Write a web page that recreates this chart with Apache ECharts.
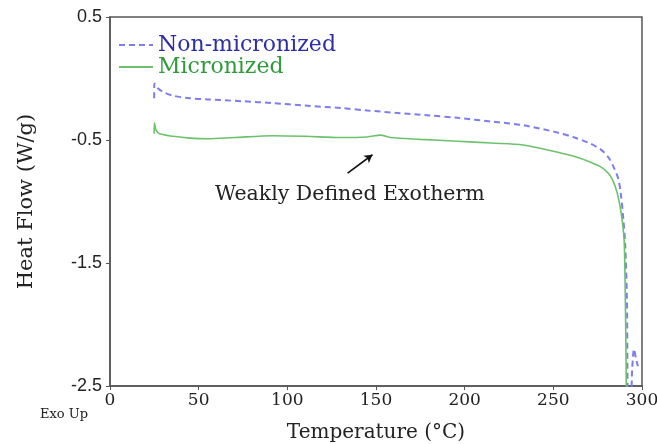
<!DOCTYPE html>
<html><head><meta charset="utf-8">
<script src="https://cdn.jsdelivr.net/npm/echarts@6/dist/echarts.min.js"></script>
<style>html,body{margin:0;padding:0;background:#fff}#c{width:657px;height:444px}</style>
</head><body><div id="c"></div>
<script>
// Temperature (°C) and Heat Flow (W/g)
const nonMicronized = [
  [24.9, -0.16], [25.0, -0.04], [27, -0.08], [30, -0.11], [35.6, -0.14], [45, -0.16], [55, -0.17],
  [75, -0.185], [92, -0.20], [110, -0.22], [130, -0.24], [145, -0.26], [162, -0.28], [180, -0.30],
  [196, -0.32], [215, -0.35], [233, -0.38], [252.5, -0.44], [262, -0.48], [271, -0.53], [277, -0.58],
  [281, -0.64], [284, -0.72], [286.5, -0.81], [288, -0.93], [289.5, -1.15], [290.5, -1.34],
  [291.5, -1.8], [292.2, -2.6], [293.6, -2.6], [294.5, -2.35], [295.5, -2.20], [296.5, -2.27], [297.7, -2.34]
];
const micronized = [
  [24.9, -0.45], [25.0, -0.36], [26, -0.42], [28, -0.45], [35.6, -0.47], [45, -0.485], [55, -0.49],
  [70, -0.48], [92, -0.465], [110, -0.47], [130, -0.48], [145, -0.475], [152.5, -0.46], [158, -0.48],
  [175, -0.495], [196, -0.51], [215, -0.525], [233, -0.54], [252.5, -0.60], [262, -0.635], [271, -0.68],
  [277, -0.72], [281, -0.77], [283.6, -0.83], [286, -0.93], [288, -1.07], [289.2, -1.2], [290, -1.34],
  [290.7, -1.9], [291.2, -2.6]
];
const xTicks = [0, 300, 50];
const yTicks = [-2.5, 0.5, 1];
const seriesNames = ['Non-micronized', 'Micronized'];

const chart = echarts.init(document.getElementById('c'));
const serif = 'DejaVu Serif';
chart.setOption({
  animation: false,
  grid: { left: 110, right: 15, top: 17, bottom: 58, outerBoundsMode: 'none', containLabel: false,
          show: true, borderColor: '#555', borderWidth: 1.5, backgroundColor: 'transparent' },
  legend: {
    orient: 'vertical', left: 113, top: 29, itemGap: 0, itemWidth: 34, itemHeight: 14,
    itemStyle: { opacity: 0 },
    data: [
      { name: seriesNames[0], textStyle: { color: '#2d2da6' } },
      { name: seriesNames[1], textStyle: { color: '#2f9a3c' } }
    ],
    textStyle: { fontFamily: serif, fontSize: 22 }
  },
  xAxis: {
    type: 'value', min: xTicks[0], max: xTicks[1], interval: xTicks[2],
    name: 'Temperature (°C)', nameLocation: 'middle', nameGap: 37,
    nameTextStyle: { fontFamily: serif, fontSize: 20, color: '#222' },
    axisLine: { onZero: false, lineStyle: { color: '#555', width: 1.5 } },
    axisTick: { length: 4, lineStyle: { color: '#555' } },
    axisLabel: { fontFamily: serif, fontSize: 17, color: '#222', margin: 6 },
    splitLine: { show: false }
  },
  yAxis: {
    type: 'value', min: yTicks[0], max: yTicks[1], interval: yTicks[2],
    name: 'Heat Flow (W/g)', nameLocation: 'middle', nameGap: 73,
    nameTextStyle: { fontFamily: serif, fontSize: 21, color: '#222' },
    axisLine: { show: true, onZero: false, lineStyle: { color: '#555', width: 1.5 } },
    axisTick: { show: true, length: 4, lineStyle: { color: '#555' } },
    axisLabel: { fontFamily: 'Liberation Sans', fontSize: 18, color: '#222', margin: 8 },
    splitLine: { show: false }
  },
  series: [
    {
      name: seriesNames[0], type: 'line', data: nonMicronized, symbol: 'none', smooth: 0.3,
      lineStyle: { color: '#7d7df0', width: 2, type: [6, 4] }, itemStyle: { color: '#7d7df0' }
    },
    {
      name: seriesNames[1], type: 'line', data: micronized, symbol: 'none', smooth: 0.3,
      lineStyle: { color: '#6cc26c', width: 1.6 }, itemStyle: { color: '#6cc26c' },
      markLine: {
        silent: true, symbol: ['none', 'arrow'], symbolSize: [7, 8],
        lineStyle: { color: '#111', width: 1.6, type: 'solid' }, label: { show: false },
        data: [[{ coord: [134, -0.77] }, { coord: [148, -0.62] }]]
      }
    }
  ],
  graphic: [
    { type: 'text', left: 215, top: 184, style: { text: 'Weakly Defined Exotherm', font: '20.5px "DejaVu Serif"', fill: '#222' } },
    { type: 'text', left: 40, top: 408, style: { text: 'Exo Up', font: '13px "DejaVu Serif"', fill: '#222' } }
  ]
});
</script></body></html>
